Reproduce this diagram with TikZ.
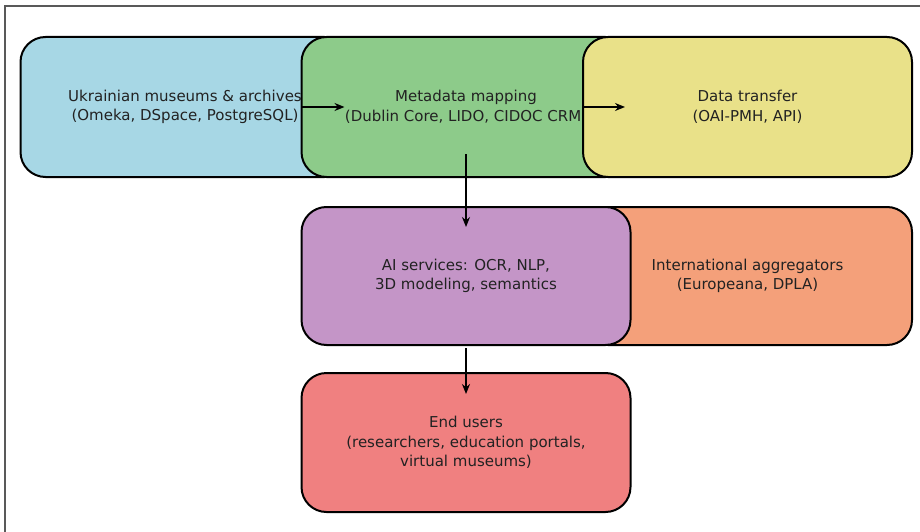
\documentclass[tikz,border=0pt]{standalone}
\usepackage{fontspec}
\setmainfont{DejaVu Sans}
\usetikzlibrary{arrows.meta}
\definecolor{cblue}{HTML}{A7D7E5}
\definecolor{cgreen}{HTML}{8DCB8A}
\definecolor{cyellow}{HTML}{E9E189}
\definecolor{cpurple}{HTML}{C495C7}
\definecolor{corange}{HTML}{F4A07A}
\definecolor{cred}{HTML}{F08080}
\definecolor{ctext}{HTML}{222222}
\tikzset{
  box/.style={draw=black, line width=2pt, rounded corners=25pt,
    minimum width=329pt, minimum height=140pt, align=center,
    text=ctext, font=\fontsize{15}{19.5}\selectfont, inner sep=0pt},
  arr/.style={line width=1.8pt, -{Stealth[length=10pt,width=8pt]}},
  frame/.style={draw=black!65, line width=1.5pt}
}
\begin{document}
\begin{tikzpicture}[x=1pt,y=-1pt]
\useasboundingbox (0,0) rectangle (920,532);
\fill[white] (0,0) rectangle (920,532);
\draw[frame] (5,532) -- (5,6) -- (920,6);
% top row
\node[box, fill=cblue] (blue) at (185,107) {Ukrainian museums \& archives\\(Omeka, DSpace, PostgreSQL)};
\node[box, fill=cgreen] (green) at (466,107) {Metadata mapping\\(Dublin Core, LIDO, CIDOC CRM)};
\node[box, fill=cyellow] (yellow) at (747.5,107) {Data transfer\\(OAI-PMH, API)};
% middle row
\node[box, fill=corange, minimum height=138pt] (orange) at (747.5,276) {International aggregators\\(Europeana, DPLA)};
\node[box, fill=cpurple, minimum height=138pt] (purple) at (466,276) {AI services: OCR, NLP,\\3D modeling, semantics};
% bottom row
\node[box, fill=cred, minimum height=139pt] (red) at (466,442.5) {End users\\(researchers, education portals,\\virtual museums)};
% connector end points
\coordinate (a1s) at ([xshift=1pt]green.west);
\coordinate (a1e) at ([xshift=44pt]green.west);
\coordinate (a2s) at ([xshift=2pt]yellow.west);
\coordinate (a2e) at ([xshift=43pt]yellow.west);
\coordinate (a3s) at ([yshift=24pt]green.south);
\coordinate (a3e) at ([yshift=-21pt]purple.north);
\coordinate (a4s) at ([yshift=-2pt]purple.south);
\coordinate (a4e) at ([yshift=-22pt]red.north);
\draw[arr] (a1s) -- (a1e);
\draw[arr] (a2s) -- (a2e);
\draw[arr] (a3s) -- (a3e);
\draw[arr] (a4s) -- (a4e);
\end{tikzpicture}
\end{document}
